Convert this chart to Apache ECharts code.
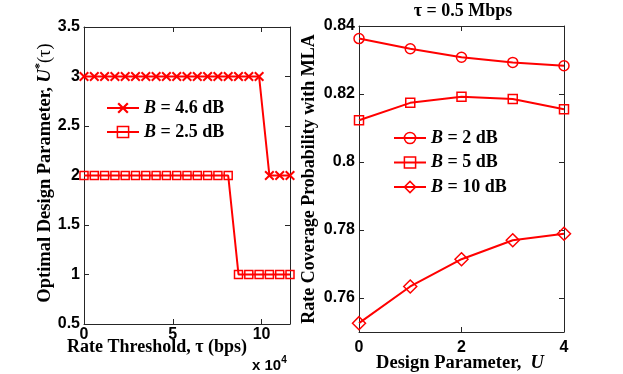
<!DOCTYPE html>
<html>
<head>
<meta charset="utf-8">
<script src="https://cdn.jsdelivr.net/npm/echarts@6/dist/echarts.min.js"></script>
<style>
  html, body { margin: 0; padding: 0; background: #fff; }
  #chart { width: 623px; height: 374px; }
</style>
</head>
<body>
<div id="chart"></div>
<script>
// left panel: optimal design parameter vs rate threshold (bps)
let thresholdBps = [0, 5800, 11600, 17400, 23200, 29000, 34800, 40600, 46400, 52200, 58000,
  63800, 69600, 75400, 81200, 87000, 92800, 98600, 104400, 110200, 116000];
let optU46dB = [3, 3, 3, 3, 3, 3, 3, 3, 3, 3, 3, 3, 3, 3, 3, 3, 3, 3, 2, 2, 2];
let optU25dB = [2, 2, 2, 2, 2, 2, 2, 2, 2, 2, 2, 2, 2, 2, 2, 1, 1, 1, 1, 1, 1];
let leftXTicks = [0, 50000, 100000];

// right panel: rate coverage vs design parameter U
let designU = [0, 1, 2, 3, 4];
let cov2dB = [0.8363, 0.8333, 0.8308, 0.8293, 0.8283];
let cov5dB = [0.8123, 0.8174, 0.8192, 0.8185, 0.8155];
let cov10dB = [0.7526, 0.7634, 0.7714, 0.7770, 0.7789];
let rightXTicks = [0, 2, 4];
let rightYTicks = [0.76, 0.78, 0.8, 0.82, 0.84];

let chart = echarts.init(document.querySelector('#chart'));

const RED = '#ff0000';
const AXIS = '#262626';
const SERIF = '"Liberation Serif", "Times New Roman", serif';
const SANS = '"Liberation Sans", Arial, sans-serif';
const X_MARK = 'path://M0,1.4L1.4,0L5,3.6L8.6,0L10,1.4L6.4,5L10,8.6L8.6,10L5,6.4L1.4,10L0,8.6L3.6,5Z';
const HOLLOW = { color: 'rgba(255,255,255,0)', borderColor: RED, borderWidth: 1.5 };

function zip(xs, ys) {
  let out = [];
  for (let i = 0; i < xs.length; i++) out.push([xs[i], ys[i]]);
  return out;
}

function axis(opts) {
  let a = {
    type: 'value',
    axisLine: { show: true, onZero: false, lineStyle: { color: AXIS, width: 1 } },
    axisTick: { show: true, inside: true, length: 5, lineStyle: { color: AXIS } },
    splitLine: { show: false },
    axisLabel: { show: false, color: '#000', fontFamily: SANS, fontWeight: 'bold', fontSize: 16 }
  };
  Object.assign(a, opts);
  if (opts.ticks) {
    a.axisTick.customValues = opts.ticks;
    a.axisLabel.customValues = opts.ticks;
    delete a.ticks;
  }
  if (opts.labels) {
    a.axisLabel.show = true;
    a.axisLabel.margin = opts.labels;
    delete a.labels;
  }
  if (opts.fmt) {
    a.axisLabel.formatter = opts.fmt;
    delete a.fmt;
  }
  return a;
}

function lineSeries(name, xi, data, symbol, size) {
  return {
    name: name,
    type: 'line',
    xAxisIndex: xi,
    yAxisIndex: xi,
    data: data,
    symbol: symbol,
    symbolSize: size,
    showAllSymbol: true,
    lineStyle: { color: RED, width: 2 },
    itemStyle: symbol === X_MARK ? { color: RED } : HOLLOW,
    emphasis: { disabled: true },
    animation: false
  };
}

function legendBlock(left, top, gap, items) {
  return {
    data: items.map((it) => ({
      name: it[0],
      itemStyle: it[1] === X_MARK ? { color: RED, borderWidth: 0 } : HOLLOW
    })),
    orient: 'vertical',
    left: left,
    top: top,
    padding: 0,
    itemGap: gap,
    itemWidth: 32,
    itemHeight: 14,
    selectedMode: false,
    formatter: (n) => '{i|B}' + n.slice(1),
    textStyle: {
      color: '#000', fontFamily: SERIF, fontWeight: 'bold', fontSize: 18, lineHeight: 20,
      rich: { i: { fontFamily: SERIF, fontWeight: 'bold', fontStyle: 'italic', fontSize: 18, color: '#000' } }
    }
  };
}

function label(x, y, text, opts) {
  return {
    type: 'text',
    x: x,
    y: y,
    rotation: opts.rotate ? Math.PI / 2 : 0,
    silent: true,
    style: Object.assign({
      text: text,
      fill: '#000',
      fontFamily: SERIF,
      fontWeight: 'bold',
      fontSize: 18,
      align: 'center',
      verticalAlign: 'middle'
    }, opts.style || {})
  };
}

const richSerif = {
  n: { fontFamily: SERIF, fontWeight: 'bold', fontSize: 18.5, lineHeight: 22, fill: '#000' },
  it: { fontFamily: SERIF, fontWeight: 'bold', fontStyle: 'italic', fontSize: 18.5, lineHeight: 22, fill: '#000' },
  sup: { fontFamily: SERIF, fontWeight: 'bold', fontSize: 12, lineHeight: 12, verticalAlign: 'top', fill: '#000' },
  th: { fontFamily: SERIF, fontWeight: 'normal', fontSize: 18.5, lineHeight: 22, fill: '#000' }
};

let option = {
  backgroundColor: '#fff',
  animation: false,
  grid: [
    { left: 84, top: 27, width: 206, height: 297 },
    { left: 359, top: 26, width: 205, height: 306 }
  ],
  xAxis: [
    axis({ gridIndex: 0, position: 'bottom', min: 0, max: 116000, ticks: leftXTicks, labels: 3, fmt: (v) => String(v / 10000) }),
    axis({ gridIndex: 1, position: 'bottom', min: 0, max: 4, ticks: rightXTicks, labels: 8 }),
    axis({ gridIndex: 0, position: 'top', min: 0, max: 116000, ticks: leftXTicks }),
    axis({ gridIndex: 1, position: 'top', min: 0, max: 4, ticks: rightXTicks })
  ],
  yAxis: [
    axis({ gridIndex: 0, position: 'left', min: 0.5, max: 3.5, interval: 0.5, labels: 4 }),
    axis({ gridIndex: 1, position: 'left', min: 0.75, max: 0.84, ticks: rightYTicks, labels: 4 }),
    axis({ gridIndex: 0, position: 'right', min: 0.5, max: 3.5, interval: 0.5 }),
    axis({ gridIndex: 1, position: 'right', min: 0.75, max: 0.84, ticks: rightYTicks })
  ],
  legend: [
    legendBlock(106, 98, 4, [['B = 4.6 dB', X_MARK], ['B = 2.5 dB', 'rect']]),
    legendBlock(393, 128, 4.5, [['B = 2 dB', 'circle'], ['B = 5 dB', 'rect'], ['B = 10 dB', 'diamond']])
  ],
  series: [
    lineSeries('B = 4.6 dB', 0, zip(thresholdBps, optU46dB), X_MARK, 10),
    lineSeries('B = 2.5 dB', 0, zip(thresholdBps, optU25dB), 'rect', 8),
    lineSeries('B = 2 dB', 1, zip(designU, cov2dB), 'circle', 10),
    lineSeries('B = 5 dB', 1, zip(designU, cov5dB), 'rect', 9),
    lineSeries('B = 10 dB', 1, zip(designU, cov10dB), 'diamond', 13)
  ],
  graphic: [
    label(45, 173, '{n|Optimal Design Parameter, }{it|U}{sup|*}{th|(τ)}', { rotate: true, style: { rich: richSerif } }),
    label(157, 347, 'Rate Threshold, τ (bps)', {}),
    label(252, 366, '{a|x 10}{b|4}', {
      style: {
        align: 'left',
        rich: {
          a: { fontFamily: SANS, fontWeight: 'bold', fontSize: 15, lineHeight: 22, fill: '#000' },
          b: { fontFamily: SANS, fontWeight: 'bold', fontSize: 10, lineHeight: 10, verticalAlign: 'top', fill: '#000' }
        }
      }
    }),
    label(463, 11, 'τ = 0.5 Mbps', {}),
    label(309, 179, 'Rate Coverage Probability with MLA', { rotate: true }),
    label(460, 363, '{n|Design Parameter,  }{it|U}', { style: { rich: richSerif } })
  ]
};

chart.setOption(option);
</script>
</body>
</html>
